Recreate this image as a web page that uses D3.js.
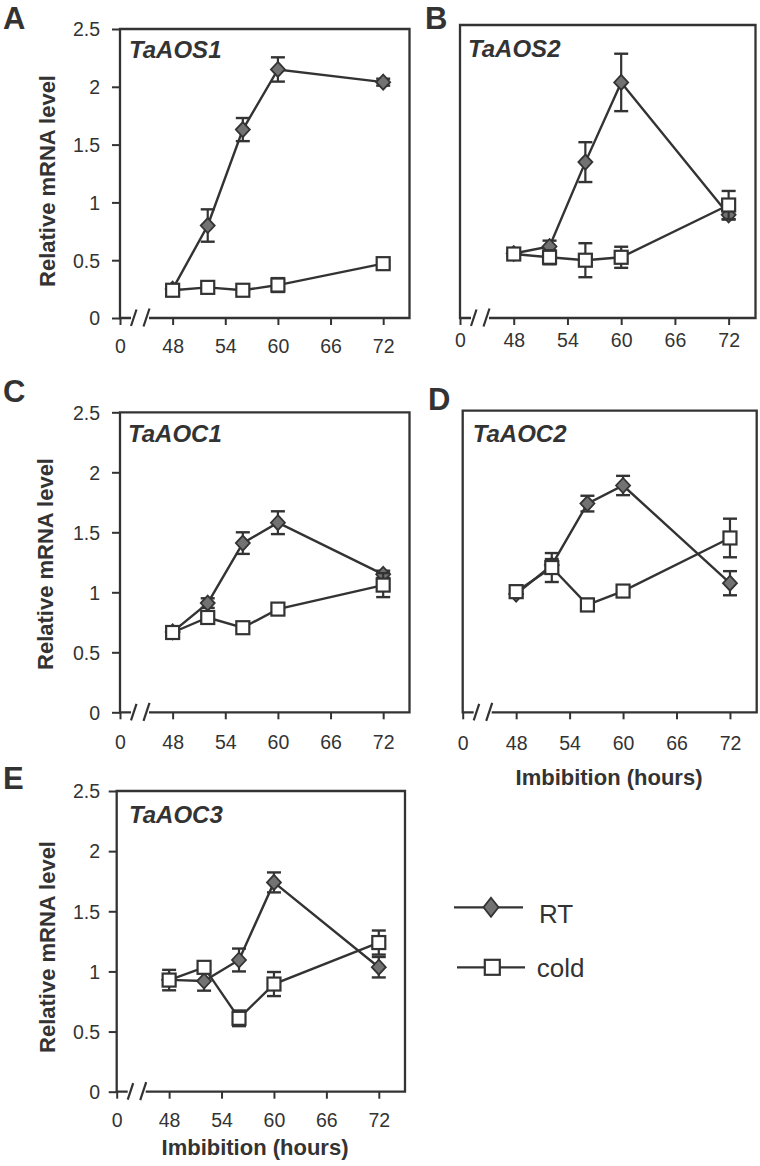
<!DOCTYPE html>
<html><head><meta charset="utf-8">
<script src="https://cdn.jsdelivr.net/npm/d3@7"></script>
<style>
body{margin:0;background:#fff}
svg{display:block}
text{font-family:"Liberation Sans",Arial,Helvetica,sans-serif}
</style>
</head><body>
<svg id="chart" width="760" height="1166"></svg>
<script>
// ---------------- data ----------------
const hours = [48, 52, 56, 60, 72];
const xTickValues = [42, 48, 54, 60, 66, 72];
const xTickLabels = ["0", "48", "54", "60", "66", "72"];
const yTickValues = [0, 0.5, 1, 1.5, 2, 2.5];
const yTickLabels = ["0", "0.5", "1", "1.5", "2", "2.5"];
const genes = ["TaAOS1", "TaAOS2", "TaAOC1", "TaAOC2", "TaAOC3"];
const panelLetters = ["A", "B", "C", "D", "E"];
const seriesNames = ["RT", "cold"];

const rtAOS1 = [0.25, 0.80, 1.63, 2.15, 2.04];
const rtAOS1Err = [0.03, 0.14, 0.10, 0.105, 0.03];
const coldAOS1 = [0.24, 0.265, 0.24, 0.285, 0.47];
const coldAOS1Err = [0.02, 0.02, 0.02, 0.06, 0.02];

const rtAOS2 = [0.55, 0.61, 1.33, 2.01, 0.88];
const rtAOS2Err = [0.02, 0.05, 0.17, 0.245, 0.04];
const coldAOS2 = [0.546, 0.518, 0.493, 0.518, 0.964];
const coldAOS2Err = [0.02, 0.06, 0.145, 0.09, 0.12];

const rtAOC1 = [0.67, 0.91, 1.41, 1.58, 1.15];
const rtAOC1Err = [0.02, 0.04, 0.09, 0.095, 0.03];
const coldAOC1 = [0.665, 0.79, 0.705, 0.86, 1.06];
const coldAOC1Err = [0.02, 0.04, 0.02, 0.02, 0.10];

const rtAOC2 = [0.98, 1.22, 1.73, 1.88, 1.07];
const rtAOC2Err = [0.02, 0.05, 0.065, 0.08, 0.10];
const coldAOC2 = [1.0, 1.2, 0.89, 1.005, 1.445];
const coldAOC2Err = [0.05, 0.12, 0.05, 0.02, 0.16];

const rtAOC3 = [0.93, 0.92, 1.095, 1.74, 1.035];
const rtAOC3Err = [0.03, 0.08, 0.095, 0.083, 0.085];
const coldAOC3 = [0.928, 1.034, 0.61, 0.895, 1.24];
const coldAOC3Err = [0.085, 0.02, 0.065, 0.10, 0.10];

// ---------------- layout ----------------
const ink = "#333333";
const diamondFill = "#727272";
const svg = d3.select("#chart");

const panels = [
  {x0:120, x1:409.5, top:29, bottom:318, yAxis:true, xLab:35, yTitle:[55,181], letter:[3,28.5], gene:[129,58.3],
   rt:rtAOS1, rtErr:rtAOS1Err, cold:coldAOS1, coldErr:coldAOS1Err},
  {x0:460, x1:755.5, top:25, bottom:318, yAxis:false, xLab:29, letter:[425,28.5], gene:[468,57],
   rt:rtAOS2, rtErr:rtAOS2Err, cold:coldAOS2, coldErr:coldAOS2Err},
  {x0:120, x1:409.5, top:412.3, bottom:712.3, yAxis:true, xLab:37, yTitle:[53,564], letter:[3,402], gene:[128,441.7],
   rt:rtAOC1, rtErr:rtAOC1Err, cold:coldAOC1, coldErr:coldAOC1Err},
  {x0:462.7, x1:756.7, top:410.7, bottom:712.3, yAxis:false, xLab:37.7, letter:[428,410], gene:[472.7,441.7],
   xTitle:[609,785], rt:rtAOC2, rtErr:rtAOC2Err, cold:coldAOC2, coldErr:coldAOC2Err},
  {x0:116.7, x1:405, top:791, bottom:1091.7, yAxis:true, xLab:35, yTitle:[55,947], letter:[3,789], gene:[129,822.7],
   xTitle:[255,1155], rt:rtAOC3, rtErr:rtAOC3Err, cold:coldAOC3, coldErr:coldAOC3Err}
];

function diamondPath(w, h) {
  return `M0,${-h/2}L${w/2},0L0,${h/2}L${-w/2},0Z`;
}

function drawPanel(p, i) {
  const x = d3.scaleLinear().domain([42, 75]).range([p.x0, p.x1]);
  const y = d3.scaleLinear().domain([0, 2.5]).range([p.bottom, p.top]);
  const g = svg.append("g");

  // x axis ticks + labels
  const gx = g.append("g").attr("transform", `translate(0,${p.bottom})`)
    .call(d3.axisBottom(x).tickValues(xTickValues)
      .tickFormat(d => xTickLabels[xTickValues.indexOf(d)])
      .tickSize(7).tickSizeOuter(0));
  gx.select(".domain").remove();
  gx.attr("font-size", null).attr("font-family", null);
  gx.selectAll(".tick line").attr("stroke", ink).attr("stroke-width", 2);
  gx.selectAll(".tick text").attr("dy", null).attr("y", p.xLab)
    .attr("fill", ink).style("font-size", "19.5px");

  // y axis
  if (p.yAxis) {
    const gy = g.append("g").attr("transform", `translate(${p.x0},0)`)
      .call(d3.axisLeft(y).tickValues(yTickValues)
        .tickFormat(d => yTickLabels[yTickValues.indexOf(d)])
        .tickSize(8).tickPadding(p.x0 - 100 - 8).tickSizeOuter(0));
    gy.select(".domain").remove();
    gy.attr("font-size", null).attr("font-family", null);
    gy.selectAll(".tick line").attr("stroke", ink).attr("stroke-width", 2);
    gy.selectAll(".tick text").attr("fill", ink).attr("dy", "0.35em").style("font-size", "19.5px");
  }

  // frame with axis break
  const b = p.bottom;
  g.append("path")
    .attr("d", `M${p.x0 + 11},${b}L${p.x0},${b}L${p.x0},${p.top}L${p.x1},${p.top}L${p.x1},${b}L${p.x0 + 29},${b}`)
    .attr("fill", "none").attr("stroke", ink).attr("stroke-width", 2.3);
  g.append("line").attr("x1", p.x0 + 11).attr("y1", b + 8).attr("x2", p.x0 + 16.5).attr("y2", b - 8.5)
    .attr("stroke", ink).attr("stroke-width", 2.2);
  g.append("line").attr("x1", p.x0 + 23.5).attr("y1", b + 8.5).attr("x2", p.x0 + 29.5).attr("y2", b - 9.5)
    .attr("stroke", ink).attr("stroke-width", 2.2);

  const line = d3.line().x(d => x(d.h)).y(d => y(d.v));
  const mk = (vals, errs) => hours.map((h, k) => ({h, v: vals[k], e: errs[k]}));

  function series(data, kind) {
    const s = g.append("g");
    s.append("path").datum(data).attr("d", line)
      .attr("fill", "none").attr("stroke", ink).attr("stroke-width", 2.4);
    const eb = s.selectAll(".eb").data(data).enter().append("g");
    eb.append("line").attr("x1", d => x(d.h)).attr("x2", d => x(d.h))
      .attr("y1", d => y(d.v - d.e)).attr("y2", d => y(d.v + d.e))
      .attr("stroke", ink).attr("stroke-width", 2.2);
    [1, -1].forEach(sg => {
      eb.append("line").attr("x1", d => x(d.h) - 7).attr("x2", d => x(d.h) + 7)
        .attr("y1", d => y(d.v + sg * d.e)).attr("y2", d => y(d.v + sg * d.e))
        .attr("stroke", ink).attr("stroke-width", 2.4);
    });
    if (kind === "RT") {
      s.selectAll(".m").data(data).enter().append("path")
        .attr("d", diamondPath(14, 15))
        .attr("transform", d => `translate(${x(d.h)},${y(d.v)})`)
        .attr("fill", diamondFill).attr("stroke", ink).attr("stroke-width", 1.8);
    } else {
      s.selectAll(".m").data(data).enter().append("rect")
        .attr("x", d => x(d.h) - 6.5).attr("y", d => y(d.v) - 6.5)
        .attr("width", 13).attr("height", 13)
        .attr("fill", "#fff").attr("stroke", ink).attr("stroke-width", 2.2);
    }
  }
  series(mk(p.rt, p.rtErr), "RT");
  series(mk(p.cold, p.coldErr), "cold");

  // texts
  g.append("text").attr("x", p.gene[0]).attr("y", p.gene[1]).text(genes[i])
    .attr("fill", ink).style("font-size", "24px").style("font-weight", "bold").style("font-style", "italic");
  g.append("text").attr("x", p.letter[0]).attr("y", p.letter[1]).text(panelLetters[i])
    .attr("fill", ink).style("font-size", "31px").style("font-weight", "bold");
  if (p.yTitle) {
    g.append("text").attr("transform", `translate(${p.yTitle[0]},${p.yTitle[1]}) rotate(-90)`)
      .attr("text-anchor", "middle").text("Relative mRNA level")
      .attr("fill", ink).style("font-size", "22px").style("font-weight", "bold");
  }
  if (p.xTitle) {
    g.append("text").attr("x", p.xTitle[0]).attr("y", p.xTitle[1])
      .attr("text-anchor", "middle").text("Imbibition (hours)")
      .attr("fill", ink).style("font-size", "22px").style("font-weight", "bold");
  }
}

panels.forEach(drawPanel);

// ---------------- legend ----------------
const lg = svg.append("g");
const legendRows = [
  {name: seriesNames[0], y: 907.3, x1: 454, x2: 523, mx: 491, tx: 539, ty: 923.3},
  {name: seriesNames[1], y: 967.3, x1: 457, x2: 525, mx: 492.3, tx: 536.7, ty: 976.7}
];
legendRows.forEach(r => {
  lg.append("line").attr("x1", r.x1).attr("x2", r.x2).attr("y1", r.y).attr("y2", r.y)
    .attr("stroke", ink).attr("stroke-width", 2.3);
  if (r.name === "RT") {
    lg.append("path").attr("d", diamondPath(15, 19)).attr("transform", `translate(${r.mx},${r.y})`)
      .attr("fill", diamondFill).attr("stroke", ink).attr("stroke-width", 1.8);
  } else {
    lg.append("rect").attr("x", r.mx - 7.5).attr("y", r.y - 7.5).attr("width", 15).attr("height", 15)
      .attr("fill", "#fff").attr("stroke", ink).attr("stroke-width", 2.2);
  }
  lg.append("text").attr("x", r.tx).attr("y", r.ty).text(r.name)
    .attr("fill", ink).style("font-size", "26px");
});
</script>
</body></html>
